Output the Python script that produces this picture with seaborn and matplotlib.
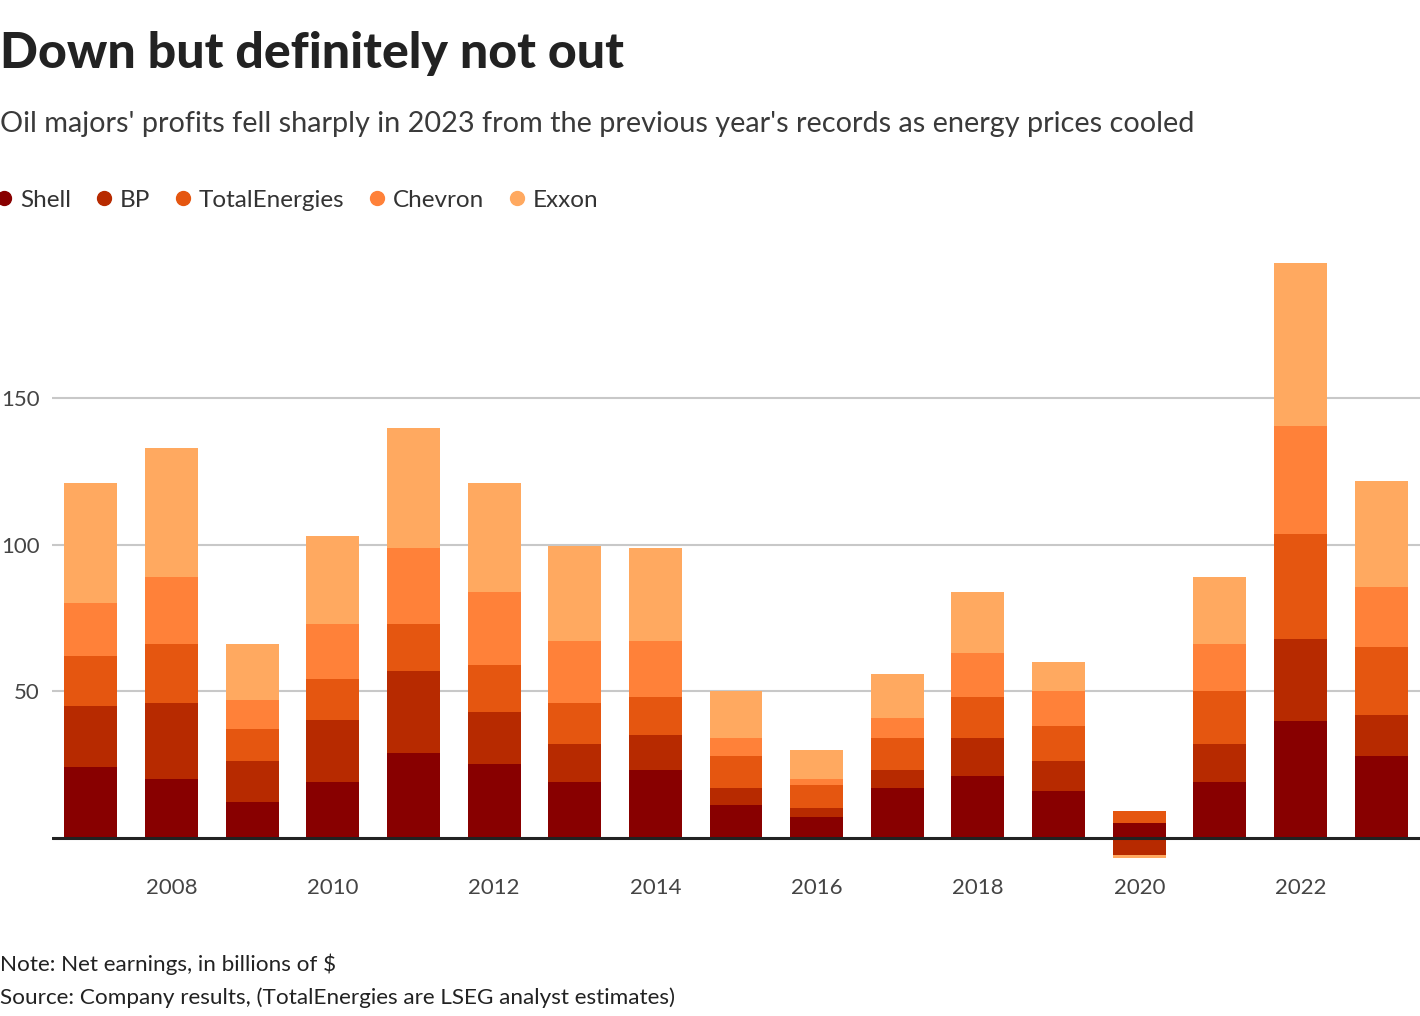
import numpy as np
import matplotlib
matplotlib.use('Agg')
import matplotlib.pyplot as plt
from matplotlib.lines import Line2D
import seaborn as sb

# net earnings, billions of $
years = [2007, 2008, 2009, 2010, 2011, 2012, 2013, 2014, 2015,
         2016, 2017, 2018, 2019, 2020, 2021, 2022, 2023]
shell = [24.1, 20.0, 12.2, 19.0, 28.9, 25.2, 19.0, 23.1, 11.2,
         7.1, 17.0, 21.1, 15.9, 5.0, 19.0, 40.0, 27.8]
bp = [20.8, 26.0, 14.0, 21.2, 28.0, 17.7, 13.0, 12.0, 5.8,
      3.0, 6.1, 12.9, 10.3, -5.9, 13.0, 28.0, 14.0]
total = [17.1, 20.1, 10.9, 14.0, 16.0, 16.0, 14.0, 12.9, 10.9,
         7.9, 10.9, 14.0, 11.9, 4.1, 18.1, 35.7, 23.2]
chevron = [18.1, 22.9, 9.9, 18.7, 26.0, 25.0, 21.1, 19.1, 6.1,
           2.0, 6.9, 15.0, 12.0, 0.0, 16.0, 36.9, 20.7]
exxon = [41.0, 44.0, 19.1, 30.1, 40.9, 37.2, 32.7, 31.8, 16.1,
         9.9, 15.0, 20.9, 9.9, -1.0, 22.9, 55.8, 36.1]

companies = ['Shell', 'BP', 'TotalEnergies', 'Chevron', 'Exxon']
series = [shell, bp, total, chevron, exxon]
colors = ['#880000', '#b72a00', '#e55610', '#ff8139', '#ffa960']

sb.set_style('white')
plt.rcParams['font.family'] = ['Lato', 'DejaVu Sans']

fig = plt.figure(figsize=(14.2, 10.16), dpi=100)
ax = fig.add_axes([52/1420, 0.1522, 1368/1420, 0.5998])

# stack positives upward and negatives downward
pos_base = np.zeros(len(years))
neg_base = np.zeros(len(years))
for vals, col in zip(series, colors):
    vals = np.array(vals)
    bottom = np.where(vals >= 0, pos_base, neg_base)
    sb.barplot(x=years, y=vals, bottom=bottom, color=col, width=0.657,
               native_scale=True, errorbar=None, saturation=1,
               linewidth=0, ax=ax)
    pos_base = pos_base + np.where(vals >= 0, vals, 0)
    neg_base = neg_base + np.where(vals < 0, vals, 0)

ax.set_xlim(2006.52, 2023.48)
ax.set_ylim(-8, 200)
ax.set_yticks([50, 100, 150])
ax.set_xticks(years[1::2])
ax.set_xticklabels([str(y) for y in years[1::2]])
ax.grid(axis='y', color='#c8c8c8', linewidth=1.5)
ax.set_axisbelow(True)
ax.axhline(0, color='#222222', linewidth=2.2, zorder=5)
for s in ax.spines.values():
    s.set_visible(False)
ax.tick_params(axis='both', length=0, labelsize=16, colors='#444444')
ax.tick_params(axis='y', pad=9)
ax.tick_params(axis='x', pad=12)
ax.set_xlabel('')
ax.set_ylabel('')

fig.text(0.0, 1 - 68/1016, 'Down but definitely not out', fontsize=36,
         fontweight='black', color='#222222', va='baseline')
fig.text(0.0, 1 - 132/1016,
         "Oil majors' profits fell sharply in 2023 from the previous year's records as energy prices cooled",
         fontsize=20.8, fontweight='normal', color='#3a3a3a', va='baseline')

handles = [Line2D([], [], marker='o', linestyle='', markersize=10,
                  color=c) for c in colors]
fig.legend(handles, companies, loc='center left',
           bbox_to_anchor=(-0.003, 1 - 200/1016), ncol=5, frameon=False,
           fontsize=17.5, handlelength=0.7, handletextpad=0.3,
           columnspacing=1.0, borderaxespad=0, borderpad=0,
           labelcolor='#333333')

fig.text(0.0, 1 - 971/1016, 'Note: Net earnings, in billions of $',
         fontsize=16.2, color='#222222', va='baseline')
fig.text(0.0, 1 - 1004/1016,
         'Source: Company results, (TotalEnergies are LSEG analyst estimates)',
         fontsize=16.2, color='#222222', va='baseline')

fig.savefig('out.png', dpi=100)
